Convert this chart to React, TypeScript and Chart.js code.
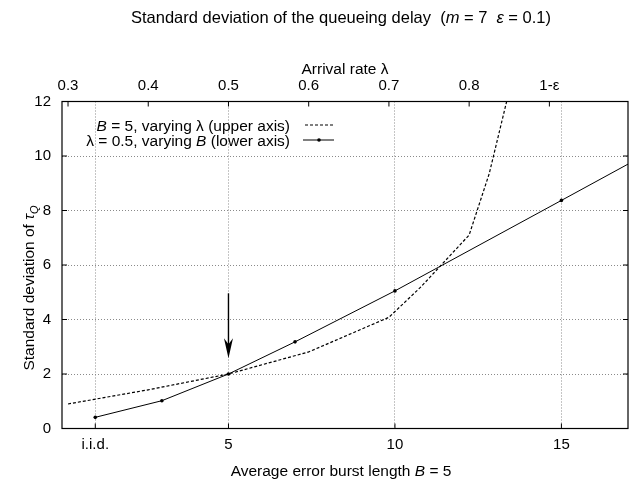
import React, { useEffect, useRef } from "react";
import { Chart, registerables } from "chart.js";
Chart.register(...registerables);

// ---- data ----
const bValues = [1, 3, 5, 7, 10, 15, 20];
const sigmaVsB = [0.41, 1.02, 2.0, 3.18, 5.05, 8.37, 11.7];
const lambdaValues = [0.3, 0.4, 0.5, 0.6, 0.7, 0.74, 0.8, 0.825, 0.85];
const sigmaVsLambda = [0.9, 1.42, 2.0, 2.81, 4.08, 5.2, 7.1, 9.35, 12.4];

const bTicks = [1, 5, 10, 15];
const bTickLabels = ["i.i.d.", "5", "10", "15"];
const lambdaTicks = [0.3, 0.4, 0.5, 0.6, 0.7, 0.8, 0.9];
const lambdaTickLabels = ["0.3", "0.4", "0.5", "0.6", "0.7", "0.8", "1-ε"];
const yTicks = [0, 2, 4, 6, 8, 10, 12];

const B_MIN = 0;
const B_MAX = 17;
const LAMBDA_AT_B5 = 0.5;
const LAMBDA_PER_B = 0.0415;
const LAMBDA_MIN = LAMBDA_AT_B5 - (5 - B_MIN) * LAMBDA_PER_B;
const LAMBDA_MAX = LAMBDA_AT_B5 + (B_MAX - 5) * LAMBDA_PER_B;

const ARROW_B = 5;
const ARROW_FROM = 4.96;
const ARROW_TO = 2.58;

const FONT = '"Liberation Sans", Arial, Helvetica, sans-serif';
const TEXT_SIZE = 15.5;
const TITLE_SIZE = 16.5;
const TICK_SIZE = 15;

type Part = { t: string; it?: boolean; sub?: boolean };

function rich(
  ctx: CanvasRenderingContext2D,
  parts: Part[],
  x: number,
  y: number,
  align: "left" | "center" | "right",
  size = TEXT_SIZE
) {
  const fontOf = (p: Part) =>
    `${p.it ? "italic " : ""}${p.sub ? Math.round(size * 0.72) : size}px ${FONT}`;
  let w = 0;
  for (const p of parts) {
    ctx.font = fontOf(p);
    w += ctx.measureText(p.t).width;
  }
  let cx = align === "left" ? x : align === "center" ? x - w / 2 : x - w;
  ctx.textAlign = "left";
  ctx.textBaseline = "alphabetic";
  for (const p of parts) {
    ctx.font = fontOf(p);
    ctx.fillText(p.t, cx, y + (p.sub ? size * 0.3 : 0));
    cx += ctx.measureText(p.t).width;
  }
}

const decorPlugin = {
  id: "decor",
  afterDatasetsDraw(chart: any) {
    const ctx: CanvasRenderingContext2D = chart.ctx;
    const a = chart.chartArea;
    const xs = chart.scales.x;
    const x2 = chart.scales.x2;
    const ys = chart.scales.y;
    ctx.save();
    ctx.fillStyle = "#000";
    ctx.strokeStyle = "#000";

    // frame
    ctx.lineWidth = 1.2;
    ctx.setLineDash([]);
    ctx.strokeRect(a.left, a.top, a.right - a.left, a.bottom - a.top);

    // inward ticks
    const tl = 5;
    ctx.lineWidth = 1;
    ctx.beginPath();
    for (const v of yTicks) {
      const py = ys.getPixelForValue(v);
      ctx.moveTo(a.left, py);
      ctx.lineTo(a.left + tl, py);
      ctx.moveTo(a.right, py);
      ctx.lineTo(a.right - tl, py);
    }
    for (const v of bTicks) {
      const px = xs.getPixelForValue(v);
      ctx.moveTo(px, a.bottom);
      ctx.lineTo(px, a.bottom - tl);
    }
    for (const v of lambdaTicks) {
      const px = x2.getPixelForValue(v);
      ctx.moveTo(px, a.top);
      ctx.lineTo(px, a.top + tl);
    }
    ctx.stroke();

    // arrow
    const ax = xs.getPixelForValue(ARROW_B);
    const ay0 = ys.getPixelForValue(ARROW_FROM);
    const ay1 = ys.getPixelForValue(ARROW_TO);
    ctx.lineWidth = 1.4;
    ctx.beginPath();
    ctx.moveTo(ax, ay0);
    ctx.lineTo(ax, ay1 - 8);
    ctx.stroke();
    ctx.beginPath();
    ctx.moveTo(ax, ay1);
    ctx.lineTo(ax - 4.5, ay1 - 20);
    ctx.lineTo(ax, ay1 - 14);
    ctx.lineTo(ax + 4.5, ay1 - 20);
    ctx.closePath();
    ctx.fill();

    // legend
    const lx = a.left + 228;
    const r1 = a.top + 23.5;
    const r2 = a.top + 38.5;
    rich(ctx, [{ t: "B", it: true }, { t: " = 5, varying λ (upper axis)" }], lx, r1 + 5.5, "right");
    rich(ctx, [{ t: "λ = 0.5, varying " }, { t: "B", it: true }, { t: " (lower axis)" }], lx, r2 + 5.5, "right");
    ctx.lineWidth = 1.2;
    ctx.setLineDash([3, 2]);
    ctx.beginPath();
    ctx.moveTo(lx + 15, r1);
    ctx.lineTo(lx + 44, r1);
    ctx.stroke();
    ctx.setLineDash([]);
    ctx.lineWidth = 1;
    ctx.beginPath();
    ctx.moveTo(lx + 13, r2);
    ctx.lineTo(lx + 44, r2);
    ctx.stroke();
    ctx.beginPath();
    ctx.arc(lx + 29, r2, 1.8, 0, Math.PI * 2);
    ctx.fill();

    // titles
    const cxm = (a.left + a.right) / 2;
    rich(
      ctx,
      [
        { t: "Standard deviation of the queueing delay  (" },
        { t: "m", it: true },
        { t: " = 7  " },
        { t: "ε", it: true },
        { t: " = 0.1)" },
      ],
      cxm - 4,
      23,
      "center",
      TITLE_SIZE
    );
    rich(ctx, [{ t: "Arrival rate λ" }], cxm, 74, "center");
    rich(
      ctx,
      [{ t: "Average error burst length " }, { t: "B", it: true }, { t: " = 5" }],
      cxm - 4,
      476,
      "center"
    );
    ctx.save();
    ctx.translate(28, 288);
    ctx.rotate(-Math.PI / 2);
    rich(
      ctx,
      [{ t: "Standard deviation of " }, { t: "τ", it: true }, { t: "Q", it: true, sub: true }],
      0,
      5.5,
      "center"
    );
    ctx.restore();

    ctx.restore();
  },
};

export default function App() {
  const ref = useRef<HTMLCanvasElement | null>(null);
  useEffect(() => {
    if (!ref.current) return;
    const tickFont = { family: FONT, size: TICK_SIZE };
    const chart = new Chart(ref.current, {
      type: "line",
      data: {
        datasets: [
          {
            label: "B = 5, varying λ (upper axis)",
            data: lambdaValues.map((v, i) => ({ x: v, y: sigmaVsLambda[i] })),
            xAxisID: "x2",
            yAxisID: "y",
            borderColor: "#000",
            borderWidth: 1.2,
            borderDash: [3, 2],
            pointRadius: 0,
            fill: false,
            tension: 0,
          },
          {
            label: "λ = 0.5, varying B (lower axis)",
            data: bValues.map((v, i) => ({ x: v, y: sigmaVsB[i] })),
            xAxisID: "x",
            yAxisID: "y",
            borderColor: "#000",
            backgroundColor: "#000",
            borderWidth: 1,
            pointRadius: 1.8,
            pointBorderWidth: 0,
            pointBackgroundColor: "#000",
            fill: false,
            tension: 0,
          },
        ],
      },
      options: {
        responsive: true,
        maintainAspectRatio: false,
        animation: false,
        layout: { padding: { left: 0, right: 12, top: 0, bottom: 0 } },
        plugins: { legend: { display: false }, tooltip: { enabled: false }, title: { display: false } },
        scales: {
          x: {
            type: "linear",
            position: "bottom",
            min: B_MIN,
            max: B_MAX,
            afterBuildTicks: (s: any) => {
              s.ticks = bTicks.map((v) => ({ value: v }));
            },
            afterFit: (s: any) => {
              s.height = 54.5;
            },
            ticks: {
              callback: (v: any) => bTickLabels[bTicks.indexOf(Number(v))] ?? "",
              font: tickFont,
              color: "#000",
              padding: 7,
              maxRotation: 0,
              autoSkip: false,
            },
            grid: { color: "#8a8a8a", lineWidth: 1, drawTicks: false },
            border: { display: false, dash: [1, 2] },
          },
          x2: {
            type: "linear",
            position: "top",
            min: LAMBDA_MIN,
            max: LAMBDA_MAX,
            afterBuildTicks: (s: any) => {
              s.ticks = lambdaTicks.map((v) => ({ value: v }));
            },
            afterFit: (s: any) => {
              s.height = 101.5;
            },
            ticks: {
              callback: (v: any) => {
                const i = lambdaTicks.findIndex((t) => Math.abs(t - Number(v)) < 1e-6);
                return i >= 0 ? lambdaTickLabels[i] : "";
              },
              font: tickFont,
              color: "#000",
              padding: 7,
              maxRotation: 0,
              autoSkip: false,
            },
            grid: { display: false, drawTicks: false },
            border: { display: false },
          },
          y: {
            type: "linear",
            position: "left",
            min: 0,
            max: 12,
            afterBuildTicks: (s: any) => {
              s.ticks = yTicks.map((v) => ({ value: v }));
            },
            afterFit: (s: any) => {
              s.width = 62;
            },
            ticks: { font: tickFont, color: "#000", padding: 11 },
            grid: { color: "#8a8a8a", lineWidth: 1, drawTicks: false },
            border: { display: false, dash: [1, 2] },
          },
        },
      } as any,
      plugins: [decorPlugin],
    });
    return () => chart.destroy();
  }, []);
  return (
    <div
      style={{ position: "fixed", left: 0, top: 0, width: 640, height: 483, background: "#fff" }}
    >
      <canvas ref={ref} />
    </div>
  );
}
